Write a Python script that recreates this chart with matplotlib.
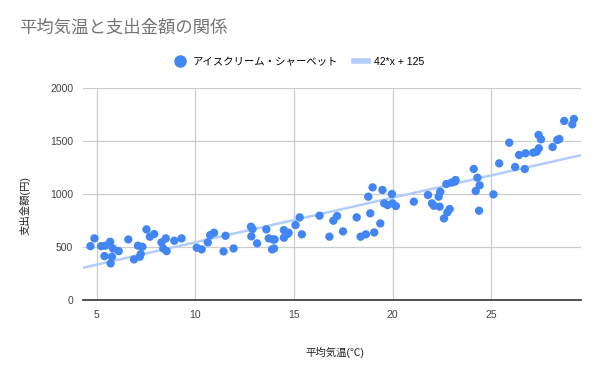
import matplotlib
matplotlib.use("Agg")
import matplotlib.pyplot as plt
from matplotlib.lines import Line2D

plt.rcParams['font.family'] = ['Liberation Sans', 'Noto Sans CJK JP', 'DejaVu Sans']

# 平均気温(℃) と アイスクリーム・シャーベット支出金額(円)
temp = [4.68, 4.88, 5.22, 5.39, 5.44, 5.68, 5.70, 5.77, 5.82, 6.11,
        6.60, 6.89, 7.09, 7.18, 7.23, 7.31, 7.52, 7.69, 7.91, 8.28,
        8.37, 8.50, 8.54, 8.93, 9.30, 10.07, 10.32, 10.63, 10.75, 10.95,
        11.43, 11.53, 11.94, 12.82, 12.90, 12.84, 13.13, 13.60, 13.72, 13.89,
        13.99, 13.94, 14.02, 14.49, 14.49, 14.66, 14.73, 15.08, 15.29, 15.40,
        16.30, 16.80, 17.00, 17.19, 17.49, 18.18, 18.38, 18.65, 18.87, 19.07,
        18.77, 18.99, 19.49, 19.38, 19.58, 19.75, 19.97, 20.00, 20.17, 21.08,
        21.80, 22.00, 22.10, 22.34, 22.42, 22.39, 22.73, 22.98, 23.20, 23.15,
        22.61, 22.78, 22.90, 24.12, 24.31, 24.42, 24.22, 24.39, 25.12, 25.41,
        25.92, 26.22, 26.71, 26.42, 26.75, 27.14, 27.31, 27.42, 27.41, 27.53,
        28.12, 28.36, 28.46, 28.71, 29.12, 29.20]
spend = [509, 582, 509, 415, 513, 550, 346, 409, 487, 462,
         572, 384, 513, 409, 434, 503, 667, 598, 623, 544,
         487, 582, 462, 560, 582, 494, 478, 544, 613, 635,
         459, 607, 487, 692, 670, 601, 535, 667, 582, 478,
         487, 572, 572, 660, 588, 623, 635, 708, 780, 620,
         796, 598, 749, 793, 648, 780, 598, 620, 818, 638,
         975, 1063, 1038, 723, 912, 896, 1000, 912, 887, 928,
         991, 912, 890, 975, 1022, 881, 1094, 1107, 1132, 1116,
         770, 827, 859, 1236, 1154, 1082, 1028, 843, 997, 1289,
         1484, 1255, 1236, 1368, 1384, 1390, 1400, 1431, 1557, 1516,
         1443, 1510, 1519, 1689, 1657, 1708]

# 近似直線 42*x + 125
slope = 42
intercept = 125
x_range = [4.29, 29.55]

x_ticks = [5, 10, 15, 20, 25]
y_ticks = [0, 500, 1000, 1500, 2000]

fig = plt.figure(figsize=(6, 3.71), dpi=100)
ax = fig.add_axes([0.138, 0.191, 0.83, 0.572])

ax.plot(x_range, [slope * v + intercept for v in x_range], color='#b3cdfa', lw=1.8, zorder=2)
ax.scatter(temp, spend, s=36, color='#4285f4', edgecolors='none', zorder=3)

ax.set_xlim(x_range)
ax.set_ylim(0, 2000)
ax.set_xticks(x_ticks)
ax.set_yticks(y_ticks)
ax.grid(True, color='#cccccc', lw=0.9)
ax.set_axisbelow(True)
for s in ['top', 'right', 'left']:
    ax.spines[s].set_visible(False)
ax.spines['bottom'].set_color('#333333')
ax.spines['bottom'].set_linewidth(1.2)
ax.tick_params(length=0, labelsize=7.5, labelcolor='#444444', pad=7)

fig.text(0.032, 0.926, '平均気温と支出金額の関係', fontsize=12.5, color='#757575', va='center')
fig.text(0.558, 0.051, '平均気温(℃)', fontsize=7.5, ha='center', va='center', color='#222222')
fig.text(0.042, 0.447, '支出金額(円)', fontsize=7.5, rotation=90, ha='center', va='center', color='#222222')

handles = [Line2D([], [], marker='o', ls='none', color='#4285f4', markersize=8),
           Line2D([], [], color='#b3cdfa', lw=4)]
fig.legend(handles, ['アイスクリーム・シャーベット', '42*x + 125'], loc='center',
           bbox_to_anchor=(0.498, 0.833), ncol=2, frameon=False, fontsize=7.5,
           handlelength=1.3, handletextpad=0.6, columnspacing=1.5)

fig.savefig('out.png', dpi=100)
